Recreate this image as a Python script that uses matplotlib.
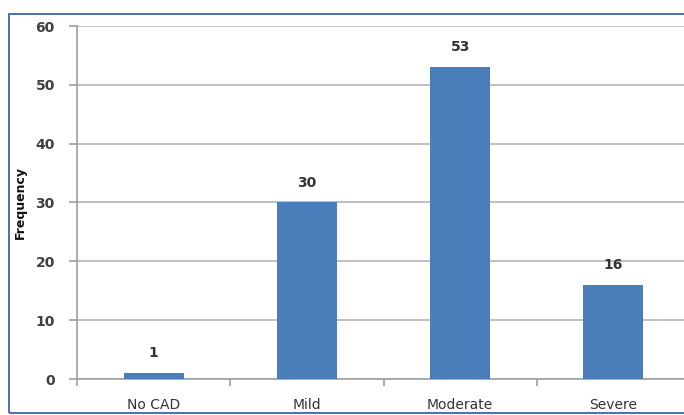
import matplotlib.pyplot as plt
from matplotlib.patches import Rectangle

categories = ['No CAD', 'Mild', 'Moderate', 'Severe']
frequency = [1, 30, 53, 16]
yticks = [0, 10, 20, 30, 40, 50, 60]

W, H = 684, 415
fig = plt.figure(figsize=(W / 100, H / 100), dpi=100)
fig.patch.set_facecolor('white')

# chart frame (runs off the right edge)
fig.add_artist(Rectangle((9 / W, 2 / H), 1.0, (413 - 14) / H, transform=fig.transFigure,
                         fill=False, edgecolor='#3b62b5', linewidth=1.3, zorder=10))

ax = fig.add_axes([77 / W, (H - 379) / H, (690 - 77) / W, (379 - 26) / H])
x = list(range(len(categories)))
bars = ax.bar(x, frequency, width=0.39, color='#4a7ebb', zorder=3)

for b, v in zip(bars, frequency):
    ax.text(b.get_x() + b.get_width() / 2, v + 2.2, str(v), ha='center', va='bottom',
            fontsize=10, color='#333333', fontweight='bold')

ax.set_xlim(-0.5, len(categories) - 0.5)
ax.set_ylim(0, 60)
ax.set_yticks(yticks)
ax.set_yticklabels([str(t) for t in yticks], fontsize=10, color='#404040', fontweight='bold')
ax.yaxis.grid(True, color='#b4b4b4', linewidth=1.2, zorder=0)

ax.set_xticks(x)
ax.set_xticklabels(categories, fontsize=10, color='#333333')
ax.set_xticks([i + 0.5 for i in range(-1, len(categories))], minor=True)
ax.tick_params(axis='x', which='major', length=0, pad=14)
ax.tick_params(axis='x', which='minor', length=5, color='#a0a0a0', width=1.2)
ax.tick_params(axis='y', length=6, color='#a0a0a0', width=1.2, pad=10)

for s in ['top', 'right']:
    ax.spines[s].set_visible(False)
for s in ['left', 'bottom']:
    ax.spines[s].set_color('#a0a0a0')
    ax.spines[s].set_linewidth(1.2)

ax.set_ylabel('Frequency', fontsize=9, fontweight='bold', color='#111111', labelpad=6)

fig.savefig('out.png', dpi=100)
